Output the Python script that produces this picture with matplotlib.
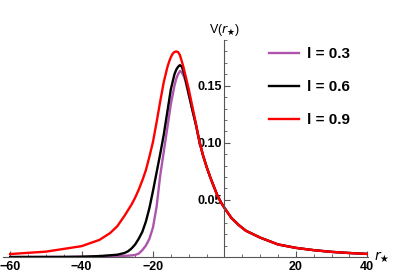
import matplotlib
matplotlib.use("Agg")
import matplotlib.pyplot as plt
from matplotlib.ticker import MultipleLocator, FixedLocator

# values (r_star, V)
x_red = [-60, -50, -40, -35, -32, -30, -28, -26, -25, -24, -23, -22, -21, -20, -19, -18,
         -17, -16, -15.5, -15, -14.5, -14, -13.5, -13, -12.5, -12, -11.5, -11, -10, -9,
         -8, -7, -6, -5, -4, -3, -2, -1, 0, 2, 4, 6, 8, 10, 15, 20, 25, 30, 35, 40]
v_red = [0.0026, 0.0047, 0.0095, 0.015, 0.021, 0.027, 0.036, 0.046, 0.052, 0.059, 0.067,
         0.076, 0.088, 0.101, 0.118, 0.136, 0.153, 0.166, 0.171, 0.175, 0.178, 0.1795,
         0.180, 0.1795, 0.177, 0.172, 0.1665, 0.160, 0.147, 0.132, 0.117, 0.101, 0.089,
         0.079, 0.070, 0.062, 0.054, 0.048, 0.043, 0.034, 0.028, 0.023, 0.020, 0.017,
         0.011, 0.008, 0.006, 0.0045, 0.0035, 0.0027]

x_black = [-60, -45, -40, -35, -30, -28, -27, -26, -25, -24, -23, -22, -21, -20, -19, -18,
           -17, -16, -15, -14, -13.5, -13, -12.5, -12, -11.5, -11, -10, -9, -8, -7, -6,
           -5, -4, -3, -2, -1, 0, 2, 4, 6, 8, 10, 15, 20, 25, 30, 35, 40]
v_black = [0.0, 0.0001, 0.0003, 0.0008, 0.002, 0.0035, 0.005, 0.0075, 0.011, 0.016,
           0.022, 0.031, 0.043, 0.058, 0.074, 0.090, 0.107, 0.127, 0.147, 0.160, 0.164,
           0.1665, 0.168, 0.167, 0.163, 0.157, 0.143, 0.129, 0.116, 0.101, 0.089, 0.079,
           0.070, 0.062, 0.054, 0.048, 0.043, 0.034, 0.028, 0.023, 0.020, 0.017, 0.011,
           0.008, 0.006, 0.0045, 0.0035, 0.0027]

x_purple = [-60, -45, -40, -35, -30, -28, -26, -25, -24, -23, -22, -21, -20, -19, -18,
            -17, -16, -15, -14, -13.5, -13, -12.4, -12, -11.5, -11, -10, -9, -8, -7, -6,
            -5, -4, -3, -2, -1, 0, 2, 4, 6, 8, 10, 15, 20, 25, 30, 35, 40]
v_purple = [0.0, 0.0, 0.0001, 0.0003, 0.0006, 0.001, 0.0014, 0.0018, 0.003, 0.006,
            0.010, 0.016, 0.026, 0.044, 0.071, 0.092, 0.113, 0.134, 0.150, 0.156, 0.160,
            0.163, 0.162, 0.159, 0.155, 0.142, 0.129, 0.116, 0.101, 0.089, 0.079, 0.070,
            0.062, 0.054, 0.048, 0.043, 0.034, 0.028, 0.023, 0.020, 0.017, 0.011, 0.008,
            0.006, 0.0045, 0.0035, 0.0027]

labels = ["l = 0.3", "l = 0.6", "l = 0.9"]
colors = ["#ad55ad", "#000000", "#ff0000"]

plt.rcParams["font.family"] = ["Liberation Sans", "DejaVu Sans"]

fig = plt.figure(figsize=(3.97, 2.78), dpi=100)
ax = fig.add_axes([0.0076, 0.0755, 0.9194, 0.7805])

series = [(x_purple, v_purple), (x_black, v_black), (x_red, v_red)]
for (xs, ys), lab, c in zip(series, labels, colors):
    ax.plot(xs, ys, color=c, lw=1.7, label=lab, solid_joinstyle="round")

ax.set_xlim(-62, 40.2)
ax.set_ylim(0, 0.19)

# mathematica style axes crossing at origin
axis_col = "#555555"
ax.spines["left"].set_position(("data", 0))
ax.spines["bottom"].set_position(("data", 0))
ax.spines["right"].set_visible(False)
ax.spines["top"].set_visible(False)
for s in ("left", "bottom"):
    ax.spines[s].set_color(axis_col)
    ax.spines[s].set_linewidth(0.8)

ax.xaxis.set_major_locator(FixedLocator([-60, -40, -20, 20, 40]))
ax.xaxis.set_minor_locator(MultipleLocator(5))
ax.yaxis.set_major_locator(FixedLocator([0.05, 0.10, 0.15]))
ax.yaxis.set_minor_locator(MultipleLocator(0.01))
ax.yaxis.set_major_formatter(plt.FuncFormatter(lambda v, p: f"{v:.2f}"))

ax.tick_params(which="major", direction="in", length=4, width=0.8, color=axis_col,
               labelsize=9, pad=3)
ax.tick_params(which="minor", direction="in", length=2.2, width=0.6, color=axis_col)
ax.tick_params(axis="y", which="major", pad=2)
for t in ax.get_xticklabels() + ax.get_yticklabels():
    t.set_fontweight("bold")

ax.text(0, 1.01, r"V($r_{\bigstar}$)", transform=ax.get_xaxis_transform(),
        ha="center", va="bottom", fontsize=9)
ax.text(42, 0, r"$r_{\bigstar}$", ha="left", va="center", fontsize=10)

leg = ax.legend(loc="upper left", bbox_to_anchor=(0.69, 1.03), frameon=False,
                prop={"size": 11, "weight": "bold"}, handlelength=2.0,
                handletextpad=0.5, labelspacing=1.25)

fig.savefig("out.png", dpi=100)
